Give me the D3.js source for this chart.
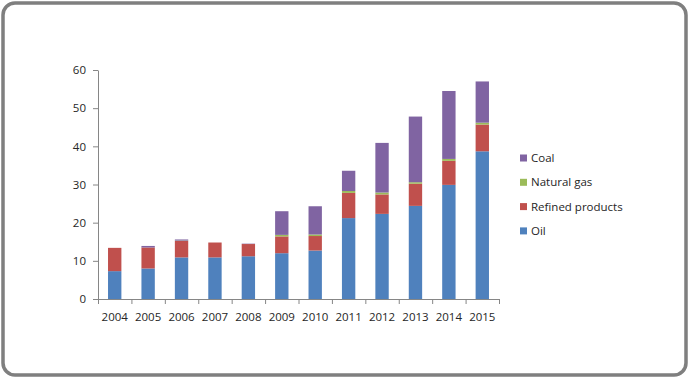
<!DOCTYPE html>
<html><head><meta charset="utf-8">
<script src="https://cdn.jsdelivr.net/npm/d3@7"></script>
<style>html,body{margin:0;padding:0;background:#fff;}svg{display:block;}</style>
</head><body>
<svg id="chart" width="690" height="380"></svg>
<script>
const years = ["2004","2005","2006","2007","2008","2009","2010","2011","2012","2013","2014","2015"];
const oil     = [7.3, 8.0, 10.9, 10.9, 11.2, 12.0, 12.7, 21.2, 22.3, 24.4, 29.9, 38.7];
const refined = [6.1, 5.5, 4.3, 3.9, 3.2, 4.4, 3.8, 6.6, 5.1, 5.8, 6.3, 7.0];
const gas     = [0.0, 0.0, 0.1, 0.0, 0.0, 0.4, 0.4, 0.5, 0.5, 0.4, 0.5, 0.5];
const coal    = [0.0, 0.4, 0.3, 0.0, 0.1, 6.2, 7.4, 5.3, 13.0, 17.2, 17.8, 10.8];
const seriesNames = ["Oil","Refined products","Natural gas","Coal"];
const seriesColors = ["#4F81BD","#C0504D","#9BBB59","#8064A2"];
const yTicks = [0,10,20,30,40,50,60];

const font = "'Open Sans', sans-serif";
const svg = d3.select("#chart");

svg.append("rect").attr("x",3).attr("y",3).attr("width",683).attr("height",372)
  .attr("rx",12).attr("fill","#fff").attr("stroke","#7f7f7f").attr("stroke-width",3.5);

const mLeft = 98, mRight = 499, mTop = 70, mBottom = 299;
const x = d3.scaleBand().domain(years).range([mLeft,mRight]).paddingInner(0).paddingOuter(0);
const y = d3.scaleLinear().domain([0,60]).range([mBottom,mTop]);

const rows = years.map((yr,i)=>({year:yr, "Oil":oil[i], "Refined products":refined[i], "Natural gas":gas[i], "Coal":coal[i]}));
const stacked = d3.stack().keys(seriesNames)(rows);
const color = d3.scaleOrdinal().domain(seriesNames).range(seriesColors);

const bw = x.bandwidth()*0.4;
svg.append("g").selectAll("g").data(stacked).join("g")
  .attr("fill", d=>color(d.key))
  .selectAll("rect").data(d=>d).join("rect")
  .attr("x", d=>x(d.data.year)+x.bandwidth()*0.3)
  .attr("width", bw)
  .attr("y", d=>y(d[1]))
  .attr("height", d=>Math.max(0, y(d[0])-y(d[1])));

// Y axis
const yAxis = svg.append("g").attr("transform",`translate(${mLeft},0)`)
  .call(d3.axisLeft(y).tickValues(yTicks).tickSize(5).tickPadding(7).tickSizeOuter(0));
yAxis.select(".domain").attr("stroke","#868686");
yAxis.selectAll(".tick line").attr("stroke","#868686");
yAxis.selectAll("text").attr("font-family",font).attr("font-size","11.5px").attr("fill","#262626");

// X axis
const xAxis = svg.append("g").attr("transform",`translate(0,${mBottom})`)
  .call(d3.axisBottom(x).tickSize(0).tickPadding(14).tickSizeOuter(0));
xAxis.select(".domain").attr("stroke","#868686");
xAxis.selectAll("text").attr("font-family",font).attr("font-size","11.5px").attr("fill","#262626");
const bounds = years.map(yr=>x(yr)).concat([mRight]);
xAxis.selectAll(".bt").data(bounds).join("line").attr("class","bt")
  .attr("x1",d=>d+0.5).attr("x2",d=>d+0.5).attr("y1",0).attr("y2",5).attr("stroke","#868686");

// Legend
const legendOrder = ["Coal","Natural gas","Refined products","Oil"];
const lg = svg.append("g").selectAll("g").data(legendOrder).join("g")
  .attr("transform",(d,i)=>`translate(520,${158 + i*24.3})`);
lg.append("rect").attr("x",0).attr("y",-3.5).attr("width",7).attr("height",7).attr("fill",d=>color(d));
lg.append("text").attr("x",11).attr("dy","0.35em").text(d=>d)
  .attr("font-family",font).attr("font-size","11.5px").attr("fill","#262626");
</script>
</body></html>
